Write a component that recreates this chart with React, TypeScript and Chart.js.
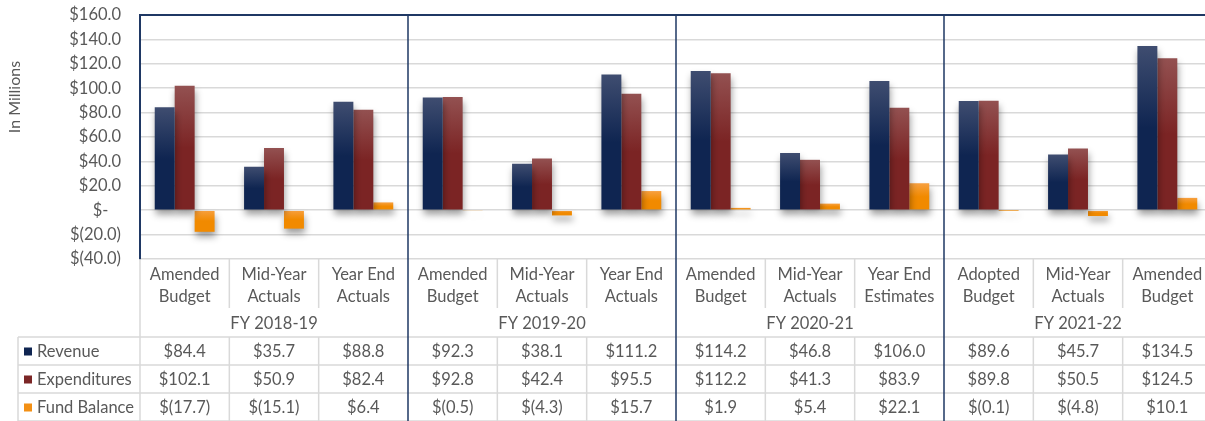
import React, { useEffect, useRef } from 'react';
import { Chart, registerables } from 'chart.js';

Chart.register(...registerables);

// ---------- data ----------
const categories: string[][] = [
  ['Amended', 'Budget'], ['Mid-Year', 'Actuals'], ['Year End', 'Actuals'],
  ['Amended', 'Budget'], ['Mid-Year', 'Actuals'], ['Year End', 'Actuals'],
  ['Amended', 'Budget'], ['Mid-Year', 'Actuals'], ['Year End', 'Estimates'],
  ['Adopted', 'Budget'], ['Mid-Year', 'Actuals'], ['Amended', 'Budget'],
];
const fiscalYears = ['FY 2018-19', 'FY 2019-20', 'FY 2020-21', 'FY 2021-22'];
const revenue = [84.4, 35.7, 88.8, 92.3, 38.1, 111.2, 114.2, 46.8, 106.0, 89.6, 45.7, 134.5];
const expenditures = [102.1, 50.9, 82.4, 92.8, 42.4, 95.5, 112.2, 41.3, 83.9, 89.8, 50.5, 124.5];
const fundBalance = [-17.7, -15.1, 6.4, -0.5, -4.3, 15.7, 1.9, 5.4, 22.1, -0.1, -4.8, 10.1];
const seriesNames = ['Revenue', 'Expenditures', 'Fund Balance'];
const yMin = -40;
const yMax = 160;
const yStep = 20;
const yTitle = 'In Millions';

// ---------- styles ----------
const FONT = 'Lato, "Open Sans", sans-serif';
const FS = 16.5;
const TEXT = '#595959';
const GRID = '#d9d9d9';
const NAVY_LINE = '#1f3864';
const W = 1212;
const H = 421;

const swatch = ['#0f2551', '#7b2626', '#f39015'];
const gradStops: [string, string][] = [
  ['#3f4d70', '#0f2551'],
  ['#935151', '#7b2424'],
  ['#f7a040', '#f18a00'],
];

const fmt = (v: number) => (v < 0 ? `$(${Math.abs(v).toFixed(1)})` : `$${v.toFixed(1)}`);

function barFill(idx: number) {
  return (c: any) => {
    const chart = c.chart;
    const { ctx, chartArea, scales } = chart;
    if (!chartArea || c.raw === undefined) return gradStops[idx][1];
    const y0 = scales.y.getPixelForValue(0);
    const y1 = scales.y.getPixelForValue(c.raw);
    const top = Math.min(y0, y1);
    const bot = Math.max(y0, y1);
    if (bot - top < 2) return gradStops[idx][1];
    const g = ctx.createLinearGradient(0, top, 0, bot);
    g.addColorStop(0, gradStops[idx][0]);
    g.addColorStop(0.5, gradStops[idx][1]);
    g.addColorStop(1, gradStops[idx][1]);
    return g;
  };
}

const tablePlugin = {
  id: 'tablePlugin',
  beforeDatasetsDraw(chart: any) {
    const ctx = chart.ctx;
    ctx.save();
    ctx.shadowColor = 'rgba(0,0,0,0.38)';
    ctx.shadowBlur = 7;
    ctx.shadowOffsetX = 1;
    ctx.shadowOffsetY = 5;
  },
  afterDatasetsDraw(chart: any) {
    chart.ctx.restore();
  },
  afterDraw(chart: any) {
    const { ctx, chartArea } = chart;
    const xs = chart.scales.x;
    const L = chartArea.left;
    const R = chartArea.right;
    const T = chartArea.top;
    const B = chartArea.bottom;
    const n = categories.length;
    const cw = (R - L) / n;
    const labelBottom = 308;
    const rows = [337, 365, 393, 421];
    const tableLeft = 18;

    ctx.save();
    ctx.strokeStyle = GRID;
    ctx.lineWidth = 1.5;
    ctx.beginPath();
    rows.forEach((y) => {
      ctx.moveTo(tableLeft, y);
      ctx.lineTo(R, y);
    });
    ctx.moveTo(tableLeft, rows[0]);
    ctx.lineTo(tableLeft, H);
    ctx.moveTo(L, B);
    ctx.lineTo(L, H);
    for (let i = 1; i < n; i++) {
      if (i % 3 === 0) continue;
      const x = L + i * cw;
      ctx.moveTo(x, B);
      ctx.lineTo(x, labelBottom);
      ctx.moveTo(x, rows[0]);
      ctx.lineTo(x, H);
    }
    ctx.stroke();

    ctx.strokeStyle = NAVY_LINE;
    ctx.lineWidth = 1.5;
    ctx.beginPath();
    for (let i = 3; i < n; i += 3) {
      const x = L + i * cw;
      ctx.moveTo(x, T);
      ctx.lineTo(x, H);
    }
    ctx.stroke();

    ctx.fillStyle = TEXT;
    ctx.font = `${FS}px ${FONT}`;
    ctx.textAlign = 'center';
    ctx.textBaseline = 'middle';
    fiscalYears.forEach((fy, g) => {
      const x = xs.getPixelForValue(g * 3 + 1);
      ctx.fillText(fy, x, (labelBottom + rows[0]) / 2 + 1);
    });

    const data = [revenue, expenditures, fundBalance];
    data.forEach((arr, r) => {
      const yc = (rows[r] + rows[r + 1]) / 2 + 0.5;
      ctx.textAlign = 'center';
      ctx.fillStyle = TEXT;
      arr.forEach((v, i) => {
        ctx.fillText(fmt(v), xs.getPixelForValue(i), yc);
      });
      ctx.fillStyle = swatch[r];
      ctx.fillRect(24, yc - 4, 8, 8);
      ctx.fillStyle = TEXT;
      ctx.textAlign = 'left';
      ctx.fillText(seriesNames[r], 37, yc);
    });

    ctx.translate(15, 97);
    ctx.rotate(-Math.PI / 2);
    ctx.textAlign = 'center';
    ctx.fillStyle = TEXT;
    ctx.font = `16px ${FONT}`;
    ctx.fillText(yTitle, 0, 0);
    ctx.restore();
  },
};

export default function App() {
  const ref = useRef<HTMLCanvasElement | null>(null);
  useEffect(() => {
    if (!ref.current) return;
    const chart = new Chart(ref.current, {
      type: 'bar',
      data: {
        labels: categories,
        datasets: [
          { label: seriesNames[0], data: revenue, backgroundColor: barFill(0) },
          { label: seriesNames[1], data: expenditures, backgroundColor: barFill(1) },
          { label: seriesNames[2], data: fundBalance, backgroundColor: barFill(2) },
        ],
      },
      options: {
        responsive: false,
        animation: false,
        layout: { padding: { top: 15, left: 0, right: 0, bottom: 0 } },
        datasets: { bar: { categoryPercentage: 0.67, barPercentage: 1 } },
        plugins: {
          legend: { display: false },
          tooltip: { enabled: false },
          title: { display: false },
        },
        scales: {
          x: {
            grid: { display: false, drawTicks: false },
            border: { display: false },
            ticks: {
              color: TEXT,
              font: { family: FONT, size: FS, lineHeight: '22px' },
              padding: 5,
              autoSkip: false,
              maxRotation: 0,
              minRotation: 0,
            },
            afterFit: (s: any) => {
              s.height = H - 259;
              s.paddingLeft = 0;
              s.paddingRight = 0;
            },
          },
          y: {
            min: yMin,
            max: yMax,
            ticks: {
              stepSize: yStep,
              color: TEXT,
              font: { family: FONT, size: FS },
              padding: 19,
              callback: (v: any) => {
                const n = Number(v);
                if (n === 0) return '$-   ';
                return fmt(n);
              },
            },
            grid: {
              drawTicks: false,
              color: (c: any) => (c.tick && c.tick.value === yMax ? NAVY_LINE : GRID),
              lineWidth: (c: any) => (c.tick && c.tick.value === yMax ? 2 : 1.5),
            },
            border: { display: true, color: NAVY_LINE, width: 2 },
            afterFit: (s: any) => {
              s.width = 140;
              s.paddingTop = 0;
              s.paddingBottom = 0;
            },
          },
        },
      },
      plugins: [tablePlugin],
    });
    return () => chart.destroy();
  }, []);
  return (
    <div style={{ position: 'fixed', left: 0, top: 0, width: 1205, height: H, overflow: 'hidden', background: '#fff' }}>
      <canvas ref={ref} width={W} height={H} style={{ display: 'block', width: W, height: H }} />
    </div>
  );
}
